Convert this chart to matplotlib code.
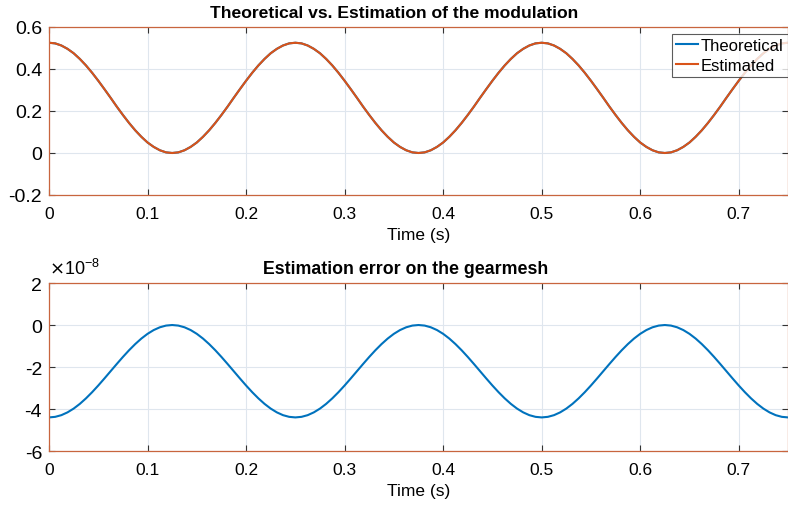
import matplotlib.pyplot as plt
import numpy as np

plt.rcParams['font.family'] = 'Liberation Sans'

# sampled curves, 0 to 0.75 s every 6.25 ms
time_s = np.linspace(0, 0.75, 121)

estimated = [
    0.525, 0.522, 0.512, 0.496, 0.475, 0.448, 0.417, 0.382, 0.344, 0.304,
    0.263, 0.221, 0.181, 0.143, 0.108, 0.077, 0.050, 0.029, 0.013, 0.003,
    0.000, 0.003, 0.013, 0.029, 0.050, 0.077, 0.108, 0.143, 0.181, 0.221,
    0.263, 0.304, 0.344, 0.382, 0.417, 0.448, 0.475, 0.496, 0.512, 0.522,
    0.525, 0.522, 0.512, 0.496, 0.475, 0.448, 0.417, 0.382, 0.344, 0.304,
    0.263, 0.221, 0.181, 0.143, 0.108, 0.077, 0.050, 0.029, 0.013, 0.003,
    0.000, 0.003, 0.013, 0.029, 0.050, 0.077, 0.108, 0.143, 0.181, 0.221,
    0.263, 0.304, 0.344, 0.382, 0.417, 0.448, 0.475, 0.496, 0.512, 0.522,
    0.525, 0.522, 0.512, 0.496, 0.475, 0.448, 0.417, 0.382, 0.344, 0.304,
    0.263, 0.221, 0.181, 0.143, 0.108, 0.077, 0.050, 0.029, 0.013, 0.003,
    0.000, 0.003, 0.013, 0.029, 0.050, 0.077, 0.108, 0.143, 0.181, 0.221,
    0.263, 0.304, 0.344, 0.382, 0.417, 0.448, 0.475, 0.496, 0.512, 0.522,
    0.525,
]
theoretical = list(estimated)  # hidden under the estimate

# gearmesh error, in units of 1e-8
error_e8 = [
    -4.400, -4.373, -4.293, -4.160, -3.980, -3.756, -3.493, -3.199, -2.880, -2.544,
    -2.200, -1.856, -1.520, -1.201, -0.907, -0.644, -0.420, -0.240, -0.108, -0.027,
    0.000, -0.027, -0.108, -0.240, -0.420, -0.644, -0.907, -1.201, -1.520, -1.856,
    -2.200, -2.544, -2.880, -3.199, -3.493, -3.756, -3.980, -4.160, -4.293, -4.373,
    -4.400, -4.373, -4.293, -4.160, -3.980, -3.756, -3.493, -3.199, -2.880, -2.544,
    -2.200, -1.856, -1.520, -1.201, -0.907, -0.644, -0.420, -0.240, -0.108, -0.027,
    0.000, -0.027, -0.108, -0.240, -0.420, -0.644, -0.907, -1.201, -1.520, -1.856,
    -2.200, -2.544, -2.880, -3.199, -3.493, -3.756, -3.980, -4.160, -4.293, -4.373,
    -4.400, -4.373, -4.293, -4.160, -3.980, -3.756, -3.493, -3.199, -2.880, -2.544,
    -2.200, -1.856, -1.520, -1.201, -0.907, -0.644, -0.420, -0.240, -0.108, -0.027,
    0.000, -0.027, -0.108, -0.240, -0.420, -0.644, -0.907, -1.201, -1.520, -1.856,
    -2.200, -2.544, -2.880, -3.199, -3.493, -3.756, -3.980, -4.160, -4.293, -4.373,
    -4.400,
]

xticks = [0, 0.1, 0.2, 0.3, 0.4, 0.5, 0.6, 0.7]
blue = '#0072BD'
orange = '#D95319'
spine_col = '#c8653e'

fig = plt.figure(figsize=(7.88, 5.1), dpi=100)
ax1 = fig.add_axes([0.0622, 0.6157, 0.9378, 0.3294])
ax2 = fig.add_axes([0.0622, 0.1137, 0.9378, 0.3294])


def style(ax):
    ax.set_xlim(0, 0.75)
    ax.set_xticks(xticks)
    ax.set_xticklabels(['0', '0.1', '0.2', '0.3', '0.4', '0.5', '0.6', '0.7'], fontsize=12.5)
    ax.tick_params(axis='y', labelsize=14, pad=5)
    ax.tick_params(axis='x', pad=8)
    ax.tick_params(direction='in', top=True, right=True, length=4, width=0.8, color='#333333')
    ax.grid(True, color='#dfe6ee', linewidth=0.8)
    ax.set_axisbelow(True)
    for s in ax.spines.values():
        s.set_color(spine_col)
        s.set_linewidth(0.9)
    ax.set_xlabel('Time (s)', fontsize=12.5, labelpad=4)


ax1.plot(time_s, theoretical, color=blue, linewidth=1.5, label='Theoretical')
ax1.plot(time_s, estimated, color=orange, linewidth=1.5, label='Estimated')
style(ax1)
ax1.set_ylim(-0.2, 0.6)
ax1.set_yticks([-0.2, 0, 0.2, 0.4, 0.6])
ax1.set_yticklabels(['-0.2', '0', '0.2', '0.4', '0.6'])
ax1.set_title('Theoretical vs. Estimation of the modulation', fontsize=12.6,
              fontweight='bold', pad=7, x=0.467)
leg = ax1.legend(loc='upper right', bbox_to_anchor=(1.0, 0.96), fontsize=12,
                 frameon=True, fancybox=False, handlelength=1.3, handletextpad=0.2,
                 borderpad=0.25, labelspacing=0.3, borderaxespad=0)
leg.get_frame().set_edgecolor('#333333')
leg.get_frame().set_linewidth(0.8)

ax2.plot(time_s, error_e8, color=blue, linewidth=1.5)
style(ax2)
ax2.set_ylim(-6, 2)
ax2.set_yticks([-6, -4, -2, 0, 2])
ax2.set_yticklabels(['-6', '-4', '-2', '0', '2'])
ax2.set_title('Estimation error on the gearmesh', fontsize=12.8,
              fontweight='bold', pad=7, x=0.482)
ax2.text(0.0, 1.03, r'$\times\mathregular{10^{-8}}$', transform=ax2.transAxes,
         fontsize=13, ha='left', va='bottom')

fig.savefig('out.png', dpi=100)
